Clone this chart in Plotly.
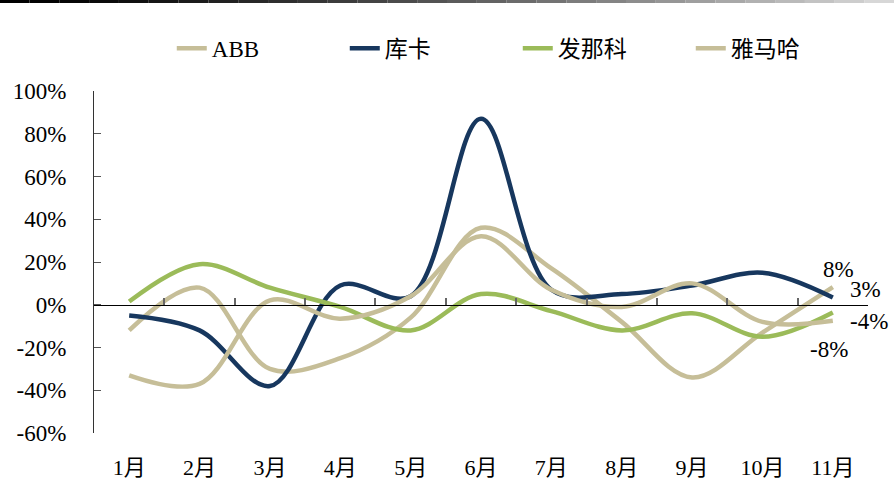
import plotly.graph_objects as go

months = ["1月", "2月", "3月", "4月", "5月", "6月", "7月", "8月", "9月", "10月", "11月"]
abb = [-12, 8, -30, -25, -6, 36, 17, -8, -34, -13, 8.2]
kuka = [-5, -12, -38, 9, 4, 87, 7, 5, 9, 15, 3.4]
fanuc = [1.5, 19, 8, -1, -12, 5, -3, -12, -4, -15, -3.6]
yamaha = [-33, -37, 2, -6.5, 4, 32, 7, -1, 10, -8, -7.5]

y_ticks = [100, 80, 60, 40, 20, 0, -20, -40, -60]
y_ticktext = ["100%", "80%", "60%", "40%", "20%", "0%", "-20%", "-40%", "-60%"]
end_labels = ["8%", "3%", "-4%", "-8%"]

FONT = "Liberation Serif, Times New Roman, Noto Sans CJK SC, serif"
C_TAN = "#C6BE98"
C_NAVY = "#17375E"
C_GREEN = "#9BBB59"

x = list(range(1, len(months) + 1))

fig = go.Figure()
series = [("ABB", abb, C_TAN), ("库卡", kuka, C_NAVY), ("发那科", fanuc, C_GREEN), ("雅马哈", yamaha, C_TAN)]
for name, vals, col in series:
    fig.add_trace(go.Scatter(x=x, y=vals, name=name, mode="lines",
                             line=dict(color=col, width=4.5, shape="spline", smoothing=1.0)))

# invisible trace to carry the zero-line axis with boundary ticks
fig.add_trace(go.Scatter(x=[0.5, 11.5], y=[0, 0], xaxis="x2", mode="lines",
                         line=dict(color="rgba(0,0,0,0)", width=0), showlegend=False, hoverinfo="skip"))

# end labels
label_specs = [(abb, end_labels[0], 6, 18), (kuka, end_labels[1], 33, 8),
               (fanuc, end_labels[2], 36, -9), (yamaha, end_labels[3], -4, -29)]
for vals, txt, xs, ys in label_specs:
    fig.add_annotation(x=x[-1], y=vals[-1], text=txt, showarrow=False, xshift=xs, yshift=ys,
                       font=dict(family=FONT, size=23, color="#000"))

# top gradient rule
W, L, PW = 894, 94.3, 773.3
B, PH = 432.7, 342.0
nseg = 30
for i in range(nseg):
    px0 = W * i / nseg
    px1 = W * (i + 1) / nseg
    g = int(0 + 215 * (i / (nseg - 1)) ** 1.3)
    fig.add_shape(type="line", xref="paper", yref="paper",
                  x0=(px0 - L) / PW, x1=(px1 - L) / PW,
                  y0=(B - 1.2) / PH, y1=(B - 1.2) / PH,
                  line=dict(color=f"rgb({g},{g},{g})", width=3))

fig.update_layout(
    width=894, height=485,
    margin=dict(l=94, r=26, t=91, b=52, autoexpand=False),
    paper_bgcolor="white", plot_bgcolor="white",
    font=dict(family=FONT, size=22, color="#000"),
    showlegend=True,
    legend=dict(orientation="h", x=(172 - L) / PW, xanchor="left",
                y=(B - 48) / PH, yanchor="middle", font=dict(family=FONT, size=23),
                entrywidth=128, entrywidthmode="pixels", bgcolor="rgba(0,0,0,0)"),
    xaxis=dict(range=[0.5, 11.5], tickmode="array", tickvals=x, ticktext=months,
               showline=False, ticks="", showgrid=False, zeroline=False, automargin=False,
               ticklabelstandoff=19, tickfont=dict(family=FONT, size=22)),
    xaxis2=dict(range=[0.5, 11.5], overlaying="x", anchor="free", position=0.375,
                tickmode="array", tickvals=[i + 0.5 for i in range(0, 12)],
                ticks="inside", ticklen=7, tickcolor="#666", tickwidth=1.5, automargin=False,
                showticklabels=False, showline=True, linecolor="#000", linewidth=1.2,
                showgrid=False, zeroline=False),
    yaxis=dict(range=[-60, 100], tickmode="array", tickvals=y_ticks, ticktext=y_ticktext,
               showline=True, linecolor="#333", linewidth=1.2, ticks="inside", ticklen=7,
               tickcolor="#555", showgrid=False, zeroline=False, ticklabelstandoff=22,
               automargin=False, tickfont=dict(family=FONT, size=23)),
)

fig.write_html("out.html")
